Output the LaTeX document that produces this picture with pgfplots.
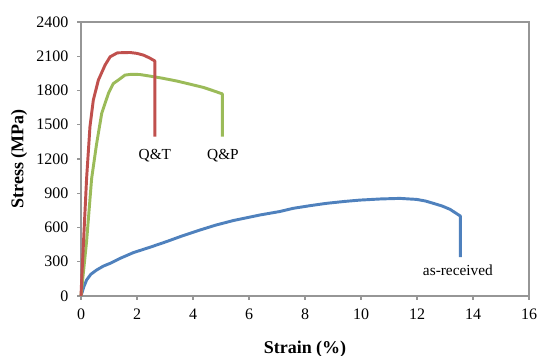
\documentclass[border=0pt]{standalone}
\usepackage{pgfplots}
\pgfplotsset{compat=1.18}
\usepackage{fontspec}
\setmainfont{Liberation Serif}
\definecolor{qtred}{RGB}{192,80,77}
\definecolor{qpgreen}{RGB}{155,187,89}
\definecolor{asblue}{RGB}{79,129,189}
\definecolor{axgray}{RGB}{150,150,150}
\begin{document}
\begin{tikzpicture}
\useasboundingbox (-60.75pt,-45pt) rectangle (342.75pt,222pt);
\begin{axis}[
  scale only axis,
  width=336pt, height=205.5pt,
  xmin=0, xmax=16, ymin=0, ymax=2400,
  xtick={0,2,...,16}, ytick={0,300,...,2400},
  /pgf/number format/assume math mode=true,
  /pgf/number format/1000 sep={},
  tick label style={font=\fontsize{12}{14}\selectfont},
  xticklabel style={yshift=-3pt},
  yticklabel style={xshift=-3pt},
  axis line style={axgray, line width=0.8pt},
  tick style={axgray, line width=0.8pt},
  tick align=outside, major tick length=3pt,
  xtick pos=bottom, ytick pos=left,
  xlabel={\textbf{Strain (\%)}}, ylabel={\textbf{Stress (MPa)}},
  label style={font=\fontsize{13.5}{16}\selectfont},
  xlabel style={yshift=-9pt},
  ylabel style={yshift=0pt},
  clip=false,
  every axis plot/.append style={line width=2.2pt, line join=round},
]
% as-received
\addplot[asblue] coordinates {
(0,0) (0.1,80) (0.2,140) (0.35,190) (0.56,228) (0.8,262) (1.04,286) (1.4,330) (1.87,380)
(2.5,430) (3.06,477) (3.6,525) (4.25,578) (4.8,620) (5.44,661) (6.4,710) (7.1,740) (7.58,768)
(8.2,792) (8.78,812) (9.4,828) (9.96,840) (10.7,850) (11.39,855) (11.99,846) (12.3,832)
(12.58,812) (12.9,788) (13.18,759) (13.55,700) (13.55,340)
};
% Q&P
\addplot[qpgreen] coordinates {
(0,0) (0.2,480) (0.38,1030) (0.56,1337) (0.74,1600) (0.98,1775) (1.15,1860) (1.33,1891)
(1.57,1935) (1.8,1942) (2.1,1940) (2.46,1926) (2.9,1908) (3.42,1883) (3.9,1855) (4.37,1827)
(4.7,1800) (5.05,1770) (5.05,1395)
};
% Q&T
\addplot[qtred] coordinates {
(0,0) (0.03,170) (0.2,1030) (0.32,1483) (0.44,1716) (0.62,1891) (0.86,2023) (1.04,2095)
(1.3,2130) (1.75,2133) (2.0,2125) (2.23,2110) (2.45,2085) (2.64,2058) (2.64,1395)
};
\node[font=\fontsize{11.5}{13}\selectfont] at (axis cs:2.64,1230) {Q\&T};
\node[font=\fontsize{11.5}{13}\selectfont] at (axis cs:5.07,1230) {Q\&P};
\node[font=\fontsize{11.5}{13}\selectfont] at (axis cs:13.46,228) {as-received};
% frame top/right
\draw[axgray, line width=0.8pt] (rel axis cs:0,1) -- (rel axis cs:1,1) -- (rel axis cs:1,0);
\end{axis}
\end{tikzpicture}
\end{document}
